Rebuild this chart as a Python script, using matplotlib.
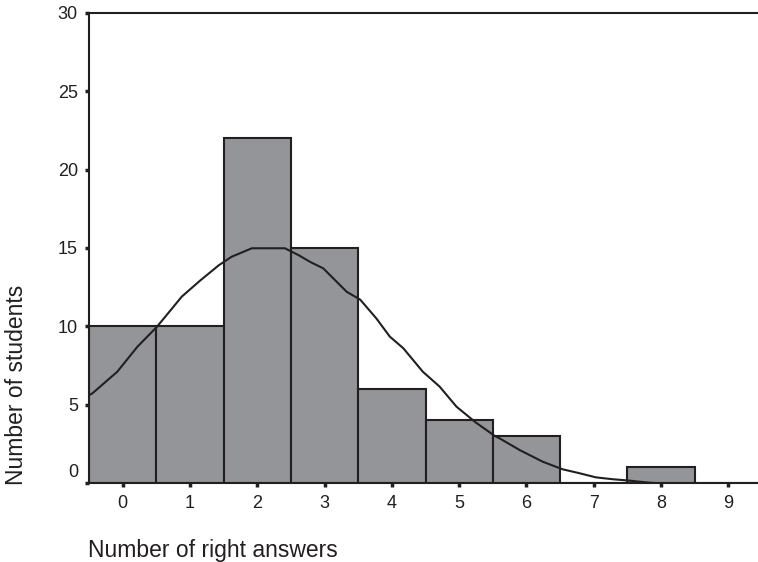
import matplotlib.pyplot as plt
import numpy as np
from matplotlib.transforms import ScaledTranslation

plt.rcParams['font.family'] = ['Liberation Sans', 'DejaVu Sans']

# histogram counts
answers = [0, 1, 2, 3, 4, 5, 6, 7, 8, 9]
students = [10, 10, 22, 15, 6, 4, 3, 0, 1, 0]

# fitted normal curve
curve_x = [-0.5, -0.45, -0.08, 0.22, 0.51, 0.88, 1.16, 1.43, 1.62, 1.92, 2.41, 2.61,
           2.79, 2.98, 3.33, 3.53, 3.77, 3.97, 4.17, 4.46, 4.71, 4.96, 5.25, 5.53,
           5.6, 5.9, 6.24, 6.54, 6.79, 7.03, 7.28, 7.53, 7.82, 7.9]
curve_y = [5.6, 5.72, 7.1, 8.7, 9.97, 11.9, 12.95, 13.9, 14.44, 14.98, 14.98, 14.55,
           14.1, 13.7, 12.2, 11.7, 10.5, 9.34, 8.6, 7.1, 6.15, 4.87, 3.85, 3.0,
           2.85, 2.1, 1.36, 0.87, 0.62, 0.36, 0.24, 0.15, 0.02, 0.0]

dark = '#231f20'
fig = plt.figure(figsize=(7.58, 5.62), dpi=100)
ax = fig.add_axes([0.1174, 0.1406, 0.8826, 0.8364])

ax.bar(answers, students, width=1.0, color='#939598', edgecolor=dark, linewidth=1.5, zorder=2)
ax.plot(curve_x, curve_y, color=dark, linewidth=1.5, zorder=3)

ax.set_xlim(-0.5, 9.44)
ax.set_ylim(0, 30)
ax.set_xticks(answers)
ax.set_yticks([0, 5, 10, 15, 20, 25, 30])

for s in ['top', 'left', 'bottom']:
    ax.spines[s].set_linewidth(1.5)
    ax.spines[s].set_color(dark)
ax.spines['right'].set_visible(False)

ax.tick_params(axis='both', direction='out', length=3, width=2.5, color=dark,
               labelsize=13, labelcolor=dark)
ax.tick_params(axis='y', pad=5)
ax.tick_params(axis='x', pad=6)

# the "0" on the y axis sits a little above its tick in the original
lab0 = ax.get_yticklabels()[0]
lab0.set_transform(lab0.get_transform() + ScaledTranslation(0, 0.12, fig.dpi_scale_trans))

fig.text(0.116, 0.009, 'Number of right answers', fontsize=16.5, color=dark,
         ha='left', va='baseline')
fig.text(0.022, 0.315, 'Number of students', fontsize=16.5, color=dark,
         rotation=90, ha='center', va='center')

fig.savefig('out.png', dpi=100)
